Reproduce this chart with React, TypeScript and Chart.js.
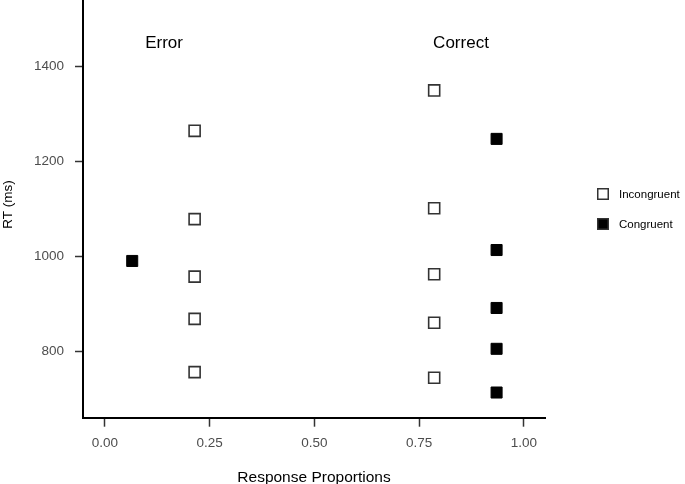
import React, { useEffect, useRef } from "react";
import { Chart, registerables } from "chart.js";

Chart.register(...registerables);

// Response proportions (x) for each accuracy group: [Error, Correct]
const incongruentProportions = [0.214, 0.786];
const congruentProportions = [0.065, 0.935];

// RT (ms) values at each proportion
const incongruentErrorRT = [1265, 1079, 958, 869, 757];
const incongruentCorrectRT = [1350, 1102, 963, 861, 745];
const congruentErrorRT = [991];
const congruentCorrectRT = [1248, 1014, 892, 806, 714];

const xTicks = [0, 0.25, 0.5, 0.75, 1.0];
const yTicks = [800, 1000, 1200, 1400];

const seriesNames = ["Incongruent", "Congruent"];
const panelLabels = [
  { text: "Error", x: 0.141, y: 1450 },
  { text: "Correct", x: 0.85, y: 1450 },
];
const yTitle = "RT (ms)";
const xTitle = "Response Proportions";

const FONT = "'Liberation Sans', Arial, Helvetica, sans-serif";

function toPoints(xs: number[], groups: number[][]) {
  const pts: { x: number; y: number }[] = [];
  groups.forEach((g, i) => g.forEach((v) => pts.push({ x: xs[i], y: v })));
  return pts;
}

const annotationPlugin = {
  id: "panelLabels",
  afterDatasetsDraw(chart: any) {
    const { ctx, scales } = chart;
    ctx.save();
    ctx.fillStyle = "#000";
    ctx.font = `17px ${FONT}`;
    ctx.textAlign = "center";
    ctx.textBaseline = "middle";
    panelLabels.forEach((l) => {
      ctx.fillText(l.text, scales.x.getPixelForValue(l.x), scales.y.getPixelForValue(l.y));
    });
    // rotated y-axis title
    ctx.save();
    ctx.translate(8, 204.5);
    ctx.rotate(-Math.PI / 2);
    ctx.font = `13.5px ${FONT}`;
    ctx.fillText(yTitle, 0, 0);
    ctx.restore();
    ctx.restore();
  },
};

const legendPlugin = {
  id: "customLegend",
  afterDraw(chart: any) {
    const { ctx, chartArea } = chart;
    const x0 = chartArea.right + 58;
    const ys = [194, 224];
    ctx.save();
    ctx.font = `11.5px ${FONT}`;
    ctx.textBaseline = "middle";
    ctx.textAlign = "left";
    seriesNames.forEach((name, i) => {
      const s = 10.5;
      ctx.lineWidth = 1.5;
      ctx.strokeStyle = "#333";
      ctx.fillStyle = i === 0 ? "#fff" : "#000";
      ctx.beginPath();
      ctx.rect(x0 - s / 2, ys[i] - s / 2, s, s);
      ctx.fill();
      ctx.stroke();
      ctx.fillStyle = "#000";
      ctx.fillText(name, x0 + 16, ys[i] + 0.5);
    });
    ctx.restore();
  },
};

export default function App() {
  const ref = useRef<HTMLCanvasElement | null>(null);

  useEffect(() => {
    if (!ref.current) return;
    const chart = new Chart(ref.current, {
      type: "scatter",
      data: {
        datasets: [
          {
            label: seriesNames[0],
            data: toPoints(incongruentProportions, [incongruentErrorRT, incongruentCorrectRT]),
            pointStyle: "rect",
            pointRadius: 7.8,
            pointHoverRadius: 7.8,
            backgroundColor: "#ffffff",
            borderColor: "#333333",
            borderWidth: 1.6,
          },
          {
            label: seriesNames[1],
            data: toPoints(congruentProportions, [congruentErrorRT, congruentCorrectRT]),
            pointStyle: "rect",
            pointRadius: 7.8,
            pointHoverRadius: 7.8,
            backgroundColor: "#000000",
            borderColor: "#000000",
            borderWidth: 1,
          },
        ],
      },
      options: {
        responsive: false,
        animation: false,
        layout: { autoPadding: false, padding: { top: 0, right: 140, left: 0, bottom: 0 } },
        plugins: {
          legend: { display: false },
          tooltip: { enabled: false },
        },
        scales: {
          x: {
            type: "linear",
            min: -0.0525,
            max: 1.0506,
            afterFit: (s: any) => {
              s.height = 66.3;
              s.paddingLeft = 0;
              s.paddingRight = 0;
            },
            afterBuildTicks: (s: any) => {
              s.ticks = xTicks.map((v) => ({ value: v }));
            },
            grid: {
              drawOnChartArea: false,
              drawTicks: true,
              tickLength: 9,
              tickColor: "#333333",
              tickWidth: 1.5,
            },
            border: { display: true, color: "#000000", width: 2 },
            ticks: {
              color: "#4d4d4d",
              font: { family: FONT, size: 13.5 },
              padding: 8,
              maxRotation: 0,
              callback: (v: any) => Number(v).toFixed(2),
            },
            title: {
              display: true,
              text: xTitle,
              color: "#000",
              font: { family: FONT, size: 15.5 },
              padding: { top: 0, bottom: -3.3 },
            },
          },
          y: {
            type: "linear",
            min: 661,
            max: 1540.4,
            afterFit: (s: any) => {
              s.width = 83;
              s.paddingTop = 0;
              s.paddingBottom = 0;
            },
            afterBuildTicks: (s: any) => {
              s.ticks = yTicks.map((v) => ({ value: v }));
            },
            grid: {
              drawOnChartArea: false,
              drawTicks: true,
              tickLength: 8,
              tickColor: "#333333",
              tickWidth: 1.5,
            },
            border: { display: true, color: "#000000", width: 2 },
            ticks: {
              color: "#4d4d4d",
              font: { family: FONT, size: 13.5 },
              padding: 11,
              callback: (v: any) => String(v),
            },
            title: { display: false },
          },
        },
      },
      plugins: [annotationPlugin, legendPlugin],
    });
    return () => chart.destroy();
  }, []);

  return (
    <div style={{ position: "fixed", left: 0, top: 0, width: 685, height: 484, background: "#fff" }}>
      <canvas ref={ref} width={685} height={484} />
    </div>
  );
}
